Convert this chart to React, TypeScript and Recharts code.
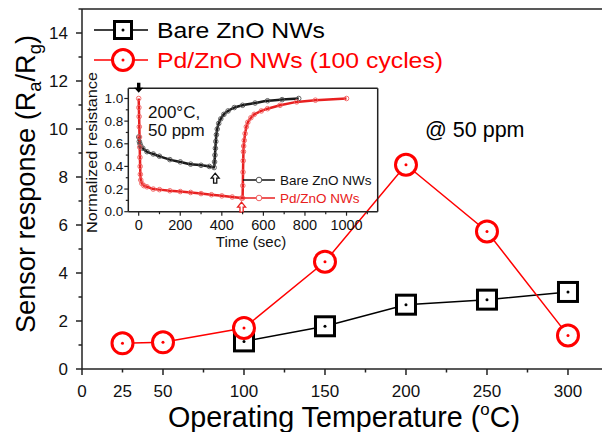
import { LineChart, Line, XAxis, YAxis, ReferenceLine, ReferenceDot } from "recharts";

const FONT = '"Liberation Sans", Arial, sans-serif';
const AXIS = "#222";
const RED = "#ff0000";
const INSET_RED = "#e82020";

// main chart: sensor response vs operating temperature
const temps = [25, 50, 100, 150, 200, 250, 300];
const bareZnO = [null, null, 1.15, 1.78, 2.68, 2.89, 3.21];
const pdZnO = [1.07, 1.11, 1.71, 4.47, 8.51, 5.73, 1.4];
const xTicks = [0, 25, 50, 75, 100, 125, 150, 175, 200, 225, 250, 275, 300];
const xLabels = [0, 25, 50, 100, 150, 200, 250, 300];
const yTicks = [0, 1, 2, 3, 4, 5, 6, 7, 8, 9, 10, 11, 12, 13, 14, 15];

// inset: normalized resistance vs time
const insetBareTime = [0, 3, 6, 10, 20, 40, 70, 100, 150, 200, 250, 300, 340, 363, 365, 367, 369, 371, 374, 378, 385, 395, 410, 430, 460, 500, 560, 620, 690, 770];
const insetBareValue = [0.66, 0.62, 0.6, 0.58, 0.56, 0.53, 0.51, 0.49, 0.46, 0.44, 0.42, 0.41, 0.4, 0.39, 0.44, 0.5, 0.56, 0.62, 0.68, 0.73, 0.78, 0.82, 0.86, 0.89, 0.92, 0.94, 0.96, 0.98, 0.99, 1.0];
const insetPdTime = [0, 1, 2, 3, 4, 5, 6, 7, 8, 10, 15, 25, 40, 70, 100, 150, 200, 250, 300, 350, 400, 450, 495, 500, 501, 502, 503, 504, 505, 508, 512, 518, 525, 540, 556, 590, 620, 680, 760, 850, 1000];
const insetPdValue = [1.0, 0.92, 0.84, 0.75, 0.66, 0.57, 0.48, 0.4, 0.33, 0.28, 0.25, 0.23, 0.22, 0.2, 0.195, 0.185, 0.178, 0.17, 0.16, 0.15, 0.14, 0.13, 0.12, 0.12, 0.23, 0.35, 0.45, 0.53, 0.58, 0.63, 0.69, 0.75, 0.79, 0.83, 0.86, 0.89, 0.91, 0.94, 0.97, 0.985, 1.0];
const insetXTicks = [0, 100, 200, 300, 400, 500, 600, 700, 800, 900, 1000, 1100];
const insetYTicks = [0, 0.1, 0.2, 0.3, 0.4, 0.5, 0.6, 0.7, 0.8, 0.9, 1.0];

const mainData = temps.map((temp, i) => ({ temp, bare: bareZnO[i], pd: pdZnO[i] }));
const bareCurve = insetBareTime.map((t, i) => ({ t, v: insetBareValue[i] }));
const pdCurve = insetPdTime.map((t, i) => ({ t, v: insetPdValue[i] }));

function MainXTick({ x, y, payload }: any) {
  const v = payload.value;
  const major = v % 50 === 0;
  return (
    <g>
      <line x1={x} x2={x} y1={y} y2={y + (major ? 6 : 3.5)} stroke={AXIS} strokeWidth={1.5} />
      {xLabels.includes(v) && (
        <text x={x} y={y + 28} textAnchor="middle" fontSize={17} fontFamily={FONT} fill="#111">
          {v}
        </text>
      )}
    </g>
  );
}

function MainYTick({ x, y, payload }: any) {
  const v = payload.value;
  const major = v % 2 === 0;
  return (
    <g>
      <line x1={x} x2={x - (major ? 6 : 3.5)} y1={y} y2={y} stroke={AXIS} strokeWidth={1.5} />
      {major && v < 15 && (
        <text x={x - 14} y={y + 6} textAnchor="end" fontSize={17} fontFamily={FONT} fill="#111">
          {v}
        </text>
      )}
    </g>
  );
}

function InsetXTick({ x, y, payload }: any) {
  const v = payload.value;
  const major = v % 200 === 0;
  return (
    <g>
      <line x1={x} x2={x} y1={y} y2={y + (major ? 4 : 2.5)} stroke={AXIS} strokeWidth={1.2} />
      {major && v <= 1000 && (
        <text x={x} y={y + 18.5} textAnchor="middle" fontSize={14.5} fontFamily={FONT} fill="#111">
          {v}
        </text>
      )}
    </g>
  );
}

function InsetYTick({ x, y, payload }: any) {
  const v = payload.value;
  const major = Math.round(v * 10) % 2 === 0;
  return (
    <g>
      <line x1={x} x2={x - (major ? 4 : 2.5)} y1={y} y2={y} stroke={AXIS} strokeWidth={1.2} />
      {major && (
        <text x={x - 5} y={y + 4.5} textAnchor="end" fontSize={13.5} fontFamily={FONT} fill="#111">
          {v.toFixed(1)}
        </text>
      )}
    </g>
  );
}

function SquareDot({ cx, cy, index }: any) {
  if (cy == null || cx == null) return <g key={`s${index}`} />;
  return (
    <g key={`s${index}`}>
      <rect x={cx - 9.5} y={cy - 9.5} width={19} height={19} fill="#fff" stroke="#000" strokeWidth={3} />
      <circle cx={cx} cy={cy} r={1.5} fill="#000" />
    </g>
  );
}

function CircleDot({ cx, cy, index }: any) {
  if (cy == null || cx == null) return <g key={`c${index}`} />;
  return (
    <g key={`c${index}`}>
      <circle cx={cx} cy={cy} r={10.5} fill="#fff" stroke={RED} strokeWidth={3} />
      <circle cx={cx} cy={cy} r={1.5} fill={RED} />
    </g>
  );
}

function FilledDownArrow({ cx, cy }: any) {
  return (
    <path
      d={`M${cx} ${cy} L${cx - 4.5} ${cy - 5} L${cx - 1.7} ${cy - 5} L${cx - 1.7} ${cy - 10} L${cx + 1.7} ${cy - 10} L${cx + 1.7} ${cy - 5} L${cx + 4.5} ${cy - 5} Z`}
      fill="#000"
    />
  );
}

function openUpArrow(color: string) {
  return ({ cx, cy }: any) => (
    <path
      d={`M${cx} ${cy} L${cx + 4} ${cy + 5} L${cx + 1.6} ${cy + 5} L${cx + 1.6} ${cy + 10} L${cx - 1.6} ${cy + 10} L${cx - 1.6} ${cy + 5} L${cx - 4} ${cy + 5} Z`}
      fill="#fff"
      stroke={color}
      strokeWidth={1.3}
    />
  );
}

function MainChart() {
  return (
    <LineChart width={602} height={432} data={mainData} margin={{ top: 9, right: 0, bottom: 0, left: 0 }}>
      <XAxis
        type="number"
        dataKey="temp"
        domain={[0, 321]}
        ticks={xTicks}
        interval={0}
        tickSize={0}
        tickMargin={0}
        tickLine={false}
        tick={(p: any) => <MainXTick {...p} />}
        axisLine={{ stroke: AXIS, strokeWidth: 1.5 }}
        height={63}
        allowDataOverflow
      />
      <YAxis
        type="number"
        domain={[0, 15]}
        ticks={yTicks}
        interval={0}
        tickSize={0}
        tickMargin={0}
        tickLine={false}
        tick={(p: any) => <MainYTick {...p} />}
        axisLine={{ stroke: AXIS, strokeWidth: 1.5 }}
        width={82}
        allowDataOverflow
      />
      <ReferenceLine y={15} stroke={AXIS} strokeWidth={1.5} />
      <Line
        dataKey="bare"
        type="linear"
        stroke="#000"
        strokeWidth={1.5}
        dot={(p: any) => <SquareDot {...p} />}
        activeDot={false}
        isAnimationActive={false}
      />
      <Line
        dataKey="pd"
        type="linear"
        stroke={RED}
        strokeWidth={1.5}
        dot={(p: any) => <CircleDot {...p} />}
        activeDot={false}
        isAnimationActive={false}
      />
    </LineChart>
  );
}

function InsetChart() {
  return (
    <LineChart width={300} height={175} margin={{ top: 12.3, right: 6.3, bottom: 0, left: 0 }}>
      <XAxis
        type="number"
        dataKey="t"
        domain={[-50, 1150]}
        ticks={insetXTicks}
        interval={0}
        tickSize={0}
        tickMargin={0}
        tickLine={false}
        tick={(p: any) => <InsetXTick {...p} />}
        axisLine={{ stroke: AXIS, strokeWidth: 1.5 }}
        height={39.3}
        allowDataOverflow
      />
      <YAxis
        type="number"
        domain={[0, 1.09]}
        ticks={insetYTicks}
        interval={0}
        tickSize={0}
        tickMargin={0}
        tickLine={false}
        tick={(p: any) => <InsetYTick {...p} />}
        axisLine={{ stroke: AXIS, strokeWidth: 1.5 }}
        width={44.3}
        allowDataOverflow
      />
      <ReferenceLine y={1.09} stroke={AXIS} strokeWidth={1.5} />
      <ReferenceLine x={1150} stroke={AXIS} strokeWidth={1.5} />
      <Line
        data={bareCurve}
        dataKey="v"
        type="monotone"
        stroke="#1a1a1a"
        strokeWidth={2.5}
        dot={{ r: 2.3, fill: "none", stroke: "#555", strokeWidth: 0.9 }}
        activeDot={false}
        isAnimationActive={false}
      />
      <Line
        data={pdCurve}
        dataKey="v"
        type="linear"
        stroke={INSET_RED}
        strokeWidth={2.5}
        dot={{ r: 2.3, fill: "none", stroke: "#f06060", strokeWidth: 0.9 }}
        activeDot={false}
        isAnimationActive={false}
      />
      <ReferenceDot x={0} y={1.05} r={0} shape={(p: any) => <FilledDownArrow {...p} />} />
      <ReferenceDot x={368} y={0.34} r={0} shape={openUpArrow("#111")} />
      <ReferenceDot x={495} y={0.085} r={0} shape={openUpArrow(INSET_RED)} />
    </LineChart>
  );
}

export default function App() {
  return (
    <div style={{ position: "absolute", left: 0, top: 0, width: 602, height: 432, background: "#fff", fontFamily: FONT, overflow: "hidden" }}>
      <div style={{ position: "absolute", left: 0, top: 0 }}>
        <MainChart />
      </div>
      <div style={{ position: "absolute", left: 84, top: 76 }}>
        <InsetChart />
      </div>
      <svg width={602} height={432} style={{ position: "absolute", left: 0, top: 0, pointerEvents: "none" }} fontFamily={FONT}>
        {/* axis titles */}
        <text transform="translate(35,184) rotate(-90)" textAnchor="middle" fontSize={28} textLength={298} lengthAdjust="spacingAndGlyphs" fill="#000">
          Sensor response (R<tspan dy={6} fontSize={19}>a</tspan>
          <tspan dy={-6}>/R</tspan>
          <tspan dy={6} fontSize={19}>g</tspan>
          <tspan dy={-6}>)</tspan>
        </text>
        <text x={168} y={427} fontSize={29} textLength={352} lengthAdjust="spacingAndGlyphs" fill="#000">
          Operating Temperature (<tspan dy={-12} fontSize={17}>o</tspan>
          <tspan dy={12}>C)</tspan>
        </text>
        <text x={425} y={137} fontSize={21.5} fill="#000">@ 50 ppm</text>

        {/* inset titles and notes */}
        <text transform="translate(97,152.5) rotate(-90)" textAnchor="middle" fontSize={15.5} textLength={161} lengthAdjust="spacingAndGlyphs" fill="#111">
          Normalized resistance
        </text>
        <text x={251} y={246.5} textAnchor="middle" fontSize={15} fill="#111">Time (sec)</text>
        <text x={148} y={118} fontSize={17} fill="#111">200°C,</text>
        <text x={148} y={136} fontSize={17} fill="#111">50 ppm</text>
        <line x1={243} x2={275} y1={180} y2={180} stroke="#111" strokeWidth={1.5} />
        <circle cx={259} cy={180} r={2.8} fill="#fff" stroke="#555" strokeWidth={1} />
        <text x={280} y={185} fontSize={13.5} fill="#111">Bare ZnO NWs</text>
        <line x1={243} x2={275} y1={198} y2={198} stroke={INSET_RED} strokeWidth={1.5} />
        <circle cx={259} cy={198} r={2.8} fill="#fff" stroke="#f06060" strokeWidth={1} />
        <text x={280} y={203} fontSize={13.5} fill={INSET_RED}>Pd/ZnO NWs</text>

        {/* main legend */}
        <line x1={94} x2={148} y1={30} y2={30} stroke="#000" strokeWidth={1.5} />
        <rect x={114.5} y={21.5} width={17} height={17} fill="#fff" stroke="#000" strokeWidth={3} />
        <circle cx={123} cy={30} r={1.5} fill="#000" />
        <text x={157} y={37.5} fontSize={22} textLength={168} lengthAdjust="spacingAndGlyphs" fill="#000">Bare ZnO NWs</text>
        <line x1={94} x2={148} y1={60} y2={60} stroke={RED} strokeWidth={1.5} />
        <circle cx={123} cy={60} r={10.5} fill="#fff" stroke={RED} strokeWidth={3} />
        <circle cx={123} cy={60} r={1.5} fill={RED} />
        <text x={157} y={68} fontSize={22} textLength={286} lengthAdjust="spacingAndGlyphs" fill={RED}>Pd/ZnO NWs (100 cycles)</text>
      </svg>
    </div>
  );
}
